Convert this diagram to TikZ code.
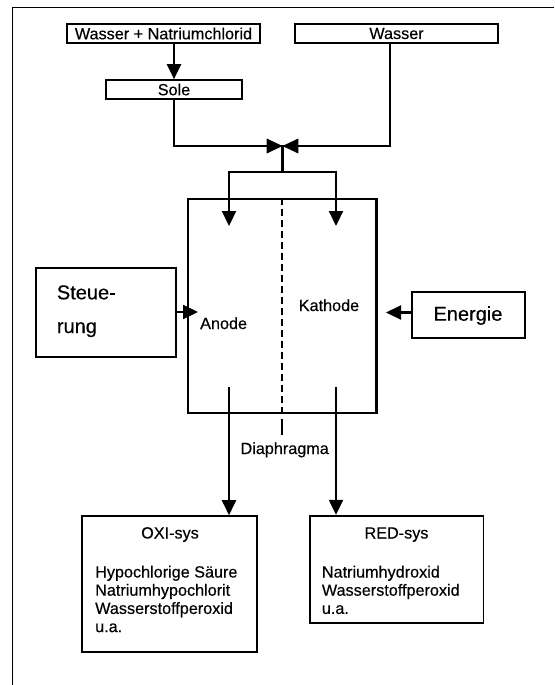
\documentclass[tikz,border=0pt]{standalone}
\usepackage{fontspec}
\setmainfont{Liberation Sans}[FakeBold=0.35]
\usetikzlibrary{arrows.meta}
\begin{document}
\begin{tikzpicture}[x=1pt,y=-1pt,
  box/.style={draw, line width=1.7pt, inner sep=0pt, anchor=center,
    font=\fontsize{16.2}{18.2}\selectfont},
  txt/.style={font=\fontsize{16.2}{18.2}\selectfont, inner sep=0pt},
  bigtxt/.style={font=\fontsize{20}{24}\selectfont, inner sep=0pt},
  pipe/.style={line width=2.2pt},
  flow/.style={pipe, -{Triangle[length=15pt,width=14pt]}}]
\useasboundingbox (0,0) rectangle (554,685);

% page frame (top and left edge)
\draw[line width=1.6pt] (554,7.5) -- (12.5,7.5) -- (12.5,685);

% supply boxes
\node[box, minimum width=193pt, minimum height=19pt] (wnacl) at (163.5,33.5) {Wasser + Natriumchlorid};
\node[box, minimum width=203pt, minimum height=19pt] (wasser) at (396.5,33.5) {Wasser};
\node[box, minimum width=136pt, minimum height=19pt] (sole) at (174,89.5) {Sole};

% electrolysis cell
\node[draw, line width=2.8pt, inner sep=0pt, minimum width=188.5pt, minimum height=214pt] (cell) at (282.3,306) {};
\node[txt, anchor=base west] (anode) at (200,329) {Anode};
\node[txt, anchor=base west] (kathode) at (298.6,311) {Kathode};
\draw[pipe, dash pattern=on 7pt off 4pt] (cell.north) -- (cell.south);

% control and power
\node[box, minimum width=140pt, minimum height=89pt] (steu) at (106,312.5) {};
\node[bigtxt, anchor=base west] (steu1) at (56.7,299.3) {Steue-};
\node[bigtxt, anchor=base west] (steu2) at (56.7,333) {rung};
\node[box, minimum width=113.3pt, minimum height=46.6pt] (energie) at (468.4,315) {};
\node[bigtxt, anchor=base west] (energietxt) at (433.3,320.7) {Energie};

% product boxes
\node[box, minimum width=175pt, minimum height=135.7pt] (oxi) at (169.2,583.9) {};
\node[txt, anchor=base] (oxititle) at (170,538.5) {OXI-sys};
\node[txt, anchor=base west] (oxi1) at (95,577.5) {Hypochlorige Säure};
\node[txt, anchor=base west] (oxi2) at (95,595.7) {Natriumhypochlorit};
\node[txt, anchor=base west] (oxi3) at (95,613.9) {Wasserstoffperoxid};
\node[txt, anchor=base west] (oxi4) at (95,632.1) {u.a.};

\node[box, minimum width=173.3pt, minimum height=107.6pt] (red) at (396.7,569.5) {};
\node[txt, anchor=base] (redtitle) at (396.5,538.5) {RED-sys};
\node[txt, anchor=base west] (red1) at (321.7,577.5) {Natriumhydroxid};
\node[txt, anchor=base west] (red2) at (321.7,595.7) {Wasserstoffperoxid};
\node[txt, anchor=base west] (red3) at (321.7,613.9) {u.a.};

\node[txt, anchor=base] (diaph) at (284.7,454) {Diaphragma};

% junction points
\coordinate (valve) at (282.3,146);
\coordinate (split) at (282.3,172);
\coordinate (inA) at (229,226);
\coordinate (inK) at (336,226);
\coordinate (outA) at (229,387);
\coordinate (outK) at (336,387);
\coordinate (ctrlin) at (198,312);
\coordinate (pwrin) at (386,312.5);
\coordinate (leadtop) at (282.3,419);
\coordinate (leadbot) at (282.3,435);

% feed lines
\draw[flow] (sole.north |- wnacl.south) -- (sole.north);
\draw[pipe] (sole.south) |- (valve);
\draw[pipe] ([xshift=-6.5pt]wasser.south) |- (valve);
\fill (266.7,138.5) -- (298.3,153.5) -- (298.3,138.5) -- (266.7,153.5) -- cycle;
\draw[line width=2.6pt] (valve) -- (split);
\draw[flow] (split) -| (inA);
\draw[flow] (split) -| (inK);

% control / power inputs
\draw[flow] (steu.east |- ctrlin) -- (ctrlin);
\draw[flow] (energie.west |- pwrin) -- (pwrin);

% outputs
\draw[flow] (outA) -- (outA |- oxi.north);
\draw[flow] (outK) -- (outK |- red.north);
\draw[pipe] (leadtop) -- (leadbot);
\end{tikzpicture}
\end{document}
